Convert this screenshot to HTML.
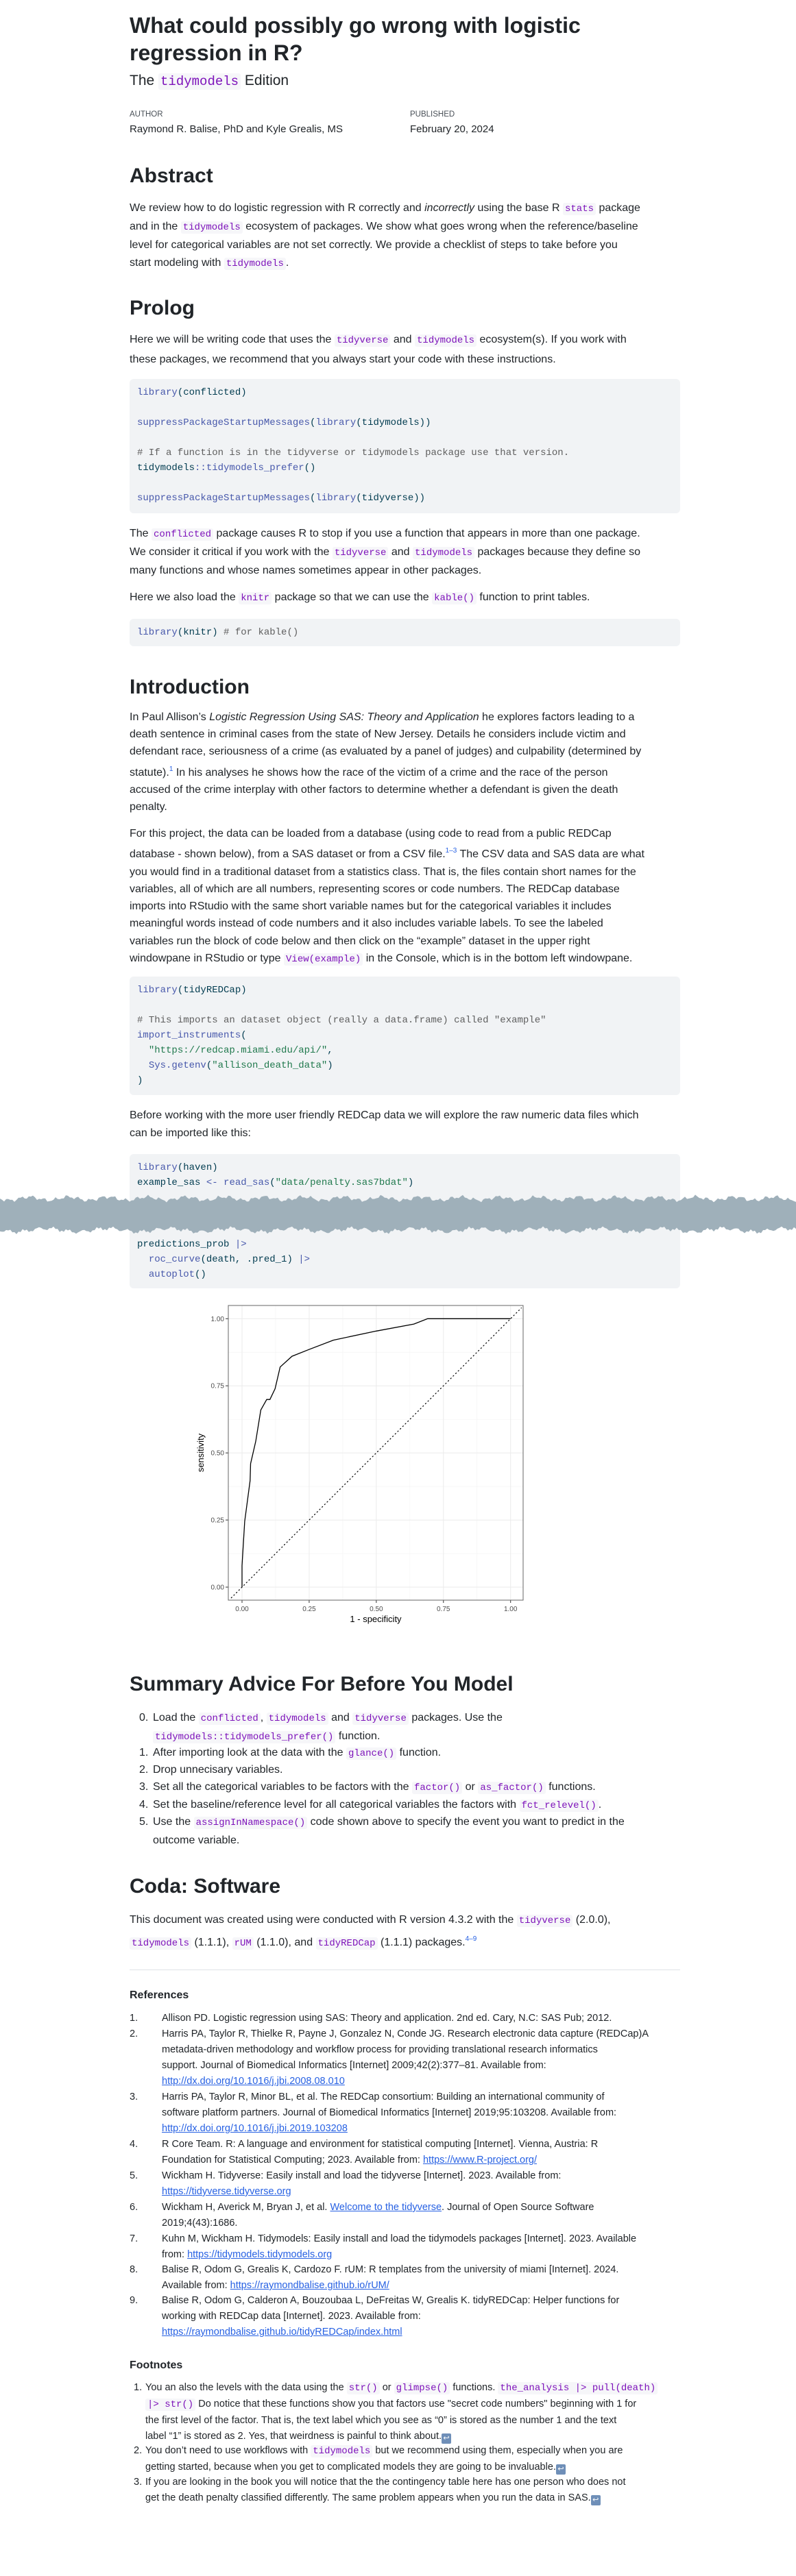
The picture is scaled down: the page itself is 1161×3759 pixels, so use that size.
<!DOCTYPE html>
<html><head><meta charset="utf-8">
<style>
*{margin:0;padding:0;box-sizing:border-box}
body{width:1161px;height:3759px;position:relative;background:#fff;font-family:"Liberation Sans",sans-serif;color:#212529;overflow:hidden}
.a{position:absolute;left:189px;white-space:nowrap}
.p{font-size:16px;line-height:25.5px;color:#212529}
h1,h2{font-weight:bold;color:#212529}
h2{font-size:30px;line-height:36px}
code,.c{font-family:"Liberation Mono",monospace;font-size:14px;color:#7d12ba;background:#f6f6f9;padding:1px 3px;border-radius:3px}
.cb{position:absolute;left:189px;width:803px;background:#f1f3f5;border-radius:6px;padding:9px 11px;font-family:"Liberation Mono",monospace;font-size:14px;line-height:22px;color:#003b4f;white-space:pre}
.fn{color:#4758ab}.st{color:#20794d}.cm{color:#5e5e5e}
a{color:#2761e3;text-decoration:underline}
.sup{font-size:10px;vertical-align:7px;color:#2761e3}
.li{position:absolute;white-space:nowrap}
.ref{font-size:14.5px;line-height:23px}
.bk{display:inline-block;width:14px;height:15px;background:#6f8fb8;border-radius:2px;color:#fff;font-size:11px;line-height:15px;text-align:center;vertical-align:-2px}
</style></head><body>
<h1 class="a" style="top:17px;font-size:32px;line-height:40px">What could possibly go wrong with logistic<br>regression in R?</h1>
<div class="a" style="top:103px;font-size:21px;line-height:30px">The <code style="font-size:19px">tidymodels</code> Edition</div>
<div class="a" style="top:160px;font-size:11.5px;line-height:14px;color:#495057">AUTHOR</div>
<div class="a" style="left:598px;top:160px;font-size:11.5px;line-height:14px;color:#495057">PUBLISHED</div>
<div class="a" style="top:179px;font-size:15px;line-height:20px">Raymond R. Balise, PhD and Kyle Grealis, MS</div>
<div class="a" style="left:598px;top:179px;font-size:15px;line-height:20px">February 20, 2024</div>

<h2 class="a" style="top:239px">Abstract</h2>
<div class="a p" style="top:291px;line-height:26px">We review how to do logistic regression with R correctly and <i>incorrectly</i> using the base R <code>stats</code> package<br>and in the <code>tidymodels</code> ecosystem of packages. We show what goes wrong when the reference/baseline<br>level for categorical variables are not set correctly. We provide a checklist of steps to take before you<br>start modeling with <code>tidymodels</code>.</div>

<h2 class="a" style="top:432px">Prolog</h2>
<div class="a p" style="top:482px;line-height:27px">Here we will be writing code that uses the <code>tidyverse</code> and <code>tidymodels</code> ecosystem(s). If you work with<br>these packages, we recommend that you always start your code with these instructions.</div>
<div class="cb" style="top:553px;height:196px"><span class="fn">library</span>(conflicted)

<span class="fn">suppressPackageStartupMessages</span>(<span class="fn">library</span>(tidymodels))

<span class="cm"># If a function is in the tidyverse or tidymodels package use that version.</span>
tidymodels<span class="fn">::</span><span class="fn">tidymodels_prefer</span>()

<span class="fn">suppressPackageStartupMessages</span>(<span class="fn">library</span>(tidyverse))</div>
<div class="a p" style="top:766px;line-height:26px">The <code>conflicted</code> package causes R to stop if you use a function that appears in more than one package.<br>We consider it critical if you work with the <code>tidyverse</code> and <code>tidymodels</code> packages because they define so<br>many functions and whose names sometimes appear in other packages.</div>
<div class="a p" style="top:859px;line-height:26px">Here we also load the <code>knitr</code> package so that we can use the <code>kable()</code> function to print tables.</div>
<div class="cb" style="top:903px;height:40px"><span class="fn">library</span>(knitr) <span class="cm"># for kable()</span></div>

<h2 class="a" style="top:985px">Introduction</h2>
<div class="a p" style="top:1034px;line-height:25.2px">In Paul Allison’s <i>Logistic Regression Using SAS: Theory and Application</i> he explores factors leading to a<br>death sentence in criminal cases from the state of New Jersey. Details he considers include victim and<br>defendant race, seriousness of a crime (as evaluated by a panel of judges) and culpability (determined by<br>statute).<span class="sup">1</span> In his analyses he shows how the race of the victim of a crime and the race of the person<br>accused of the crime interplay with other factors to determine whether a defendant is given the death<br>penalty.</div>
<div class="a p" style="top:1204px;line-height:25.3px">For this project, the data can be loaded from a database (using code to read from a public REDCap<br>database - shown below), from a SAS dataset or from a CSV file.<span class="sup">1–3</span> The CSV data and SAS data are what<br>you would find in a traditional dataset from a statistics class. That is, the files contain short names for the<br>variables, all of which are all numbers, representing scores or code numbers. The REDCap database<br>imports into RStudio with the same short variable names but for the categorical variables it includes<br>meaningful words instead of code numbers and it also includes variable labels. To see the labeled<br>variables run the block of code below and then click on the “example” dataset in the upper right<br>windowpane in RStudio or type <code>View(example)</code> in the Console, which is in the bottom left windowpane.</div>
<div class="cb" style="top:1425px;height:173px"><span class="fn">library</span>(tidyREDCap)

<span class="cm"># This imports an dataset object (really a data.frame) called "example"</span>
<span class="fn">import_instruments</span>(
  <span class="st">"https://redcap.miami.edu/api/"</span>,
  <span class="fn">Sys.getenv</span>(<span class="st">"allison_death_data"</span>)
)</div>
<div class="a p" style="top:1615px;line-height:26px">Before working with the more user friendly REDCap data we will explore the raw numeric data files which<br>can be imported like this:</div>
<div class="cb" style="top:1684px;height:90px"><span class="fn">library</span>(haven)
example_sas <span class="fn">&lt;-</span> <span class="fn">read_sas</span>(<span class="st">"data/penalty.sas7bdat"</span>)</div>
<div class="cb" style="top:1780px;height:100px;padding-top:25px">predictions_prob <span class="fn">|&gt;</span>
  <span class="fn">roc_curve</span>(death, .pred_1) <span class="fn">|&gt;</span>
  <span class="fn">autoplot</span>()</div>
<svg id="torn" style="position:absolute;left:0;top:1735px" width="1161" height="75"></svg>

<svg id="roc" style="position:absolute;left:0;top:1880px" width="1161" height="500" viewBox="0 1880 1161 500"></svg>

<h2 class="a" style="top:2440px">Summary Advice For Before You Model</h2>
<div class="p">
<div class="li" style="left:203px;top:2494px">0.</div><div class="li" style="left:223px;top:2494px;line-height:26px">Load the <code>conflicted</code>, <code>tidymodels</code> and <code>tidyverse</code> packages. Use the<br><code>tidymodels::tidymodels_prefer()</code> function.</div>
<div class="li" style="left:203px;top:2545px">1.</div><div class="li" style="left:223px;top:2545px">After importing look at the data with the <code>glance()</code> function.</div>
<div class="li" style="left:203px;top:2570px">2.</div><div class="li" style="left:223px;top:2570px">Drop unnecisary variables.</div>
<div class="li" style="left:203px;top:2595px">3.</div><div class="li" style="left:223px;top:2595px">Set all the categorical variables to be factors with the <code>factor()</code> or <code>as_factor()</code> functions.</div>
<div class="li" style="left:203px;top:2621px">4.</div><div class="li" style="left:223px;top:2621px">Set the baseline/reference level for all categorical variables the factors with <code>fct_relevel()</code>.</div>
<div class="li" style="left:203px;top:2646px">5.</div><div class="li" style="left:223px;top:2646px;line-height:26px">Use the <code>assignInNamespace()</code> code shown above to specify the event you want to predict in the<br>outcome variable.</div>
</div>

<h2 class="a" style="top:2735px">Coda: Software</h2>
<div class="a p" style="top:2789px;line-height:25.5px">This document was created using were conducted with R version 4.3.2 with the <code>tidyverse</code> (2.0.0),<br><code>tidymodels</code> (1.1.1), <code>rUM</code> (1.1.0), and <code>tidyREDCap</code> (1.1.1) packages.<span class="sup">4–9</span></div>

<div style="position:absolute;left:189px;top:2874px;width:803px;height:1px;background:#dee2e6"></div>
<div class="a" style="top:2902px;font-size:16px;font-weight:bold;line-height:20px">References</div>
<div class="ref">
<div class="li" style="left:189px;top:2934px">1.</div><div class="li" style="left:236px;top:2934px">Allison PD. Logistic regression using SAS: Theory and application. 2nd ed. Cary, N.C: SAS Pub; 2012.</div>
<div class="li" style="left:189px;top:2957px">2.</div><div class="li" style="left:236px;top:2957px">Harris PA, Taylor R, Thielke R, Payne J, Gonzalez N, Conde JG. Research electronic data capture (REDCap)A<br>metadata-driven methodology and workflow process for providing translational research informatics<br>support. Journal of Biomedical Informatics [Internet] 2009;42(2):377–81. Available from:<br><a>http://dx.doi.org/10.1016/j.jbi.2008.08.010</a></div>
<div class="li" style="left:189px;top:3049px">3.</div><div class="li" style="left:236px;top:3049px">Harris PA, Taylor R, Minor BL, et al. The REDCap consortium: Building an international community of<br>software platform partners. Journal of Biomedical Informatics [Internet] 2019;95:103208. Available from:<br><a>http://dx.doi.org/10.1016/j.jbi.2019.103208</a></div>
<div class="li" style="left:189px;top:3118px">4.</div><div class="li" style="left:236px;top:3118px">R Core Team. R: A language and environment for statistical computing [Internet]. Vienna, Austria: R<br>Foundation for Statistical Computing; 2023. Available from: <a>https://www.R-project.org/</a></div>
<div class="li" style="left:189px;top:3164px">5.</div><div class="li" style="left:236px;top:3164px">Wickham H. Tidyverse: Easily install and load the tidyverse [Internet]. 2023. Available from:<br><a>https://tidyverse.tidyverse.org</a></div>
<div class="li" style="left:189px;top:3210px">6.</div><div class="li" style="left:236px;top:3210px">Wickham H, Averick M, Bryan J, et al. <a>Welcome to the tidyverse</a>. Journal of Open Source Software<br>2019;4(43):1686.</div>
<div class="li" style="left:189px;top:3256px">7.</div><div class="li" style="left:236px;top:3256px">Kuhn M, Wickham H. Tidymodels: Easily install and load the tidymodels packages [Internet]. 2023. Available<br>from: <a>https://tidymodels.tidymodels.org</a></div>
<div class="li" style="left:189px;top:3301px">8.</div><div class="li" style="left:236px;top:3301px">Balise R, Odom G, Grealis K, Cardozo F. rUM: R templates from the university of miami [Internet]. 2024.<br>Available from: <a>https://raymondbalise.github.io/rUM/</a></div>
<div class="li" style="left:189px;top:3346px">9.</div><div class="li" style="left:236px;top:3346px">Balise R, Odom G, Calderon A, Bouzoubaa L, DeFreitas W, Grealis K. tidyREDCap: Helper functions for<br>working with REDCap data [Internet]. 2023. Available from:<br><a>https://raymondbalise.github.io/tidyREDCap/index.html</a></div>
</div>
<div class="a" style="top:3442px;font-size:16px;font-weight:bold;line-height:20px">Footnotes</div>
<div class="ref">
<div class="li" style="left:195px;top:3473px">1.</div><div class="li" style="left:212px;top:3473px">You an also the levels with the data using the <code>str()</code> or <code>glimpse()</code> functions. <code>the_analysis |&gt; pull(death)</code><br><code>|&gt; str()</code> Do notice that these functions show you that factors use "secret code numbers" beginning with 1 for<br>the first level of the factor. That is, the text label which you see as “0” is stored as the number 1 and the text<br>label “1” is stored as 2. Yes, that weirdness is painful to think about.<span class="bk">↩</span></div>
<div class="li" style="left:195px;top:3565px">2.</div><div class="li" style="left:212px;top:3565px">You don’t need to use workflows with <code>tidymodels</code> but we recommend using them, especially when you are<br>getting started, because when you get to complicated models they are going to be invaluable.<span class="bk">↩</span></div>
<div class="li" style="left:195px;top:3611px">3.</div><div class="li" style="left:212px;top:3611px">If you are looking in the book you will notice that the the contingency table here has one person who does not<br>get the death penalty classified differently. The same problem appears when you run the data in SAS.<span class="bk">↩</span></div>
</div>

<script>
// ROC curve data
const fpr = [0,0,0.01,0.02,0.03,0.032,0.051,0.07,0.092,0.104,0.123,0.142,0.186,0.249,0.34,0.5,0.64,0.691,1];
const tpr = [0,0.08,0.245,0.32,0.397,0.46,0.543,0.66,0.699,0.699,0.739,0.82,0.86,0.885,0.92,0.954,0.98,1,1];
const xTicks = [0,0.25,0.5,0.75,1];
const yTicks = [0,0.25,0.5,0.75,1];
const xTickLabels = ["0.00","0.25","0.50","0.75","1.00"];
const yTickLabels = ["0.00","0.25","0.50","0.75","1.00"];

(function(){
  const NS="http://www.w3.org/2000/svg";
  const svg=document.getElementById('roc');
  const L=333,R=763,T=1905,B=2335;
  const x=v=>353+v*391.7, y=v=>2316-v*391.7;
  function mk(tag,attrs){const e=document.createElementNS(NS,tag);for(const k in attrs)e.setAttribute(k,attrs[k]);svg.appendChild(e);return e;}
  const bg=mk('rect',{x:L,y:T,width:R-L,height:B-T,fill:'#fff'});
  
  
  for(let i=0;i<xTicks.length-1;i++){
    const m=(xTicks[i]+xTicks[i+1])/2;
    const g1=mk('line',{x1:x(m),x2:x(m),y1:T,y2:B,stroke:'#f4f4f4','stroke-width':0.7});
    
    
    const my=(yTicks[i]+yTicks[i+1])/2;
    const g2=mk('line',{x1:L,x2:R,y1:y(my),y2:y(my),stroke:'#f4f4f4','stroke-width':0.7});
    
    
  }
  xTicks.forEach((v,i)=>{
    const g=mk('line',{x1:x(v),x2:x(v),y1:T,y2:B,stroke:'#ebebeb','stroke-width':1});
    
    
    const t=mk('line',{x1:x(v),x2:x(v),y1:B,y2:B+4,stroke:'#333','stroke-width':1});
    
    
    const tx=mk('text',{x:x(v),y:B+16,'text-anchor':'middle','font-size':'10px',fill:'#4d4d4d','font-family':'Liberation Sans, sans-serif'});
    tx.textContent=xTickLabels[i];
    
    
  });
  yTicks.forEach((v,i)=>{
    const g=mk('line',{x1:L,x2:R,y1:y(v),y2:y(v),stroke:'#ebebeb','stroke-width':1});
    
    
    const t=mk('line',{x1:L-4,x2:L,y1:y(v),y2:y(v),stroke:'#333','stroke-width':1});
    
    
    const tx=mk('text',{x:L-6,y:y(v)+3.5,'text-anchor':'end','font-size':'10px',fill:'#4d4d4d','font-family':'Liberation Sans, sans-serif'});
    tx.textContent=yTickLabels[i];
    
    
  });
  const diag=mk('line',{x1:x(-0.04),y1:y(-0.04),x2:x(1.04),y2:y(1.04),stroke:'#000','stroke-width':1.2,'stroke-dasharray':'1.2 4','stroke-linecap':'round'});
  
  
  const pts=fpr.map((v,i)=>x(v).toFixed(1)+','+y(tpr[i]).toFixed(1)).join(' ');
  const line=mk('polyline',{points:pts,fill:'none',stroke:'#000','stroke-width':1.3});
  
  
  const fr=mk('rect',{x:L,y:T,width:R-L,height:B-T,fill:'none',stroke:'#666','stroke-width':1});
  
  
  const xl=mk('text',{x:(L+R)/2,y:B+32,'text-anchor':'middle','font-size':'13px',fill:'#000','font-family':'Liberation Sans, sans-serif'});
  xl.textContent='1 - specificity';
  
  
  const yl=mk('text',{x:0,y:0,'text-anchor':'middle','font-size':'13px',fill:'#000','font-family':'Liberation Sans, sans-serif',transform:'translate(297,'+((T+B)/2)+') rotate(-90)'});
  yl.textContent='sensitivity';
  
  
})();

// decorative torn-paper band
(function(){
  const NS="http://www.w3.org/2000/svg";
  const s=document.getElementById('torn');
  let top=[],bot=[];
  for(let px=0;px<=1161;px+=3){
    const a=Math.sin(px*0.37)*2+Math.sin(px*0.11)*2.5+Math.sin(px*1.3)*1.2;
    const b=Math.sin(px*0.29+1)*2.2+Math.sin(px*0.07)*2.5+Math.sin(px*1.1)*1.3;
    top.push(px+','+(14+a).toFixed(1));
    bot.unshift(px+','+(60+b).toFixed(1));
  }
  const p=document.createElementNS(NS,'polygon');
  p.setAttribute('points',top.concat(bot).join(' '));
  p.setAttribute('fill','#9fb0ba');
  
  
  s.appendChild(p);
})();
</script>
</body></html>
